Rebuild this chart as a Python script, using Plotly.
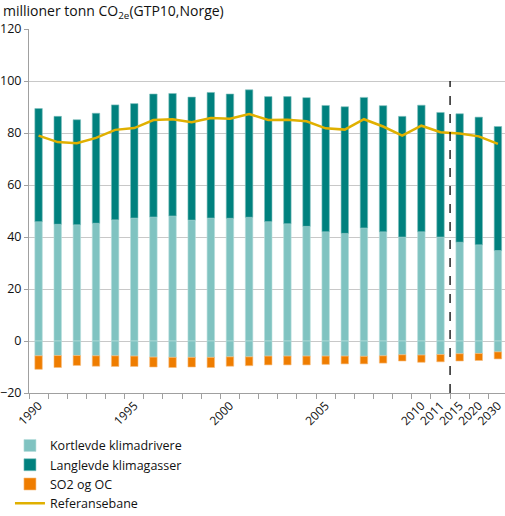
import plotly.graph_objects as go

years = ["1990", "1991", "1992", "1993", "1994", "1995", "1996", "1997", "1998", "1999",
         "2000", "2001", "2002", "2003", "2004", "2005", "2006", "2007", "2008", "2009",
         "2010", "2011", "2015", "2020", "2030"]
tick_labels = ["1990", "", "", "", "", "1995", "", "", "", "",
               "2000", "", "", "", "", "2005", "", "", "", "",
               "2010", "2011", "2015", "2020", "2030"]

kortlevde_pos = [45.9, 44.9, 44.7, 45.3, 46.6, 47.3, 47.7, 48.1, 46.5, 47.3,
                 47.2, 47.6, 45.9, 45.1, 44.1, 42.0, 41.4, 43.5, 42.0, 40.0,
                 42.0, 40.0, 38.0, 37.0, 34.8]
kortlevde_neg = [-5.7, -5.6, -5.6, -5.7, -5.7, -5.8, -6.2, -6.3, -6.3, -6.3,
                 -6.1, -6.1, -5.8, -5.8, -5.8, -5.8, -5.8, -5.9, -5.7, -5.3,
                 -5.4, -5.2, -4.9, -4.8, -4.2]
langlevde = [43.5, 41.5, 40.4, 42.3, 44.2, 44.0, 47.3, 47.1, 47.3, 48.3,
             47.8, 49.0, 48.1, 48.9, 49.5, 48.6, 48.7, 50.2, 48.5, 46.4,
             48.7, 47.9, 49.4, 49.1, 47.7]
so2_oc = [-5.2, -4.6, -3.8, -4.0, -4.1, -4.0, -3.8, -3.9, -3.7, -3.9,
          -3.6, -3.4, -3.4, -3.4, -3.4, -3.2, -3.0, -2.9, -2.8, -2.4,
          -2.8, -2.8, -2.8, -2.7, -2.7]
referansebane = [79.0, 76.5, 76.1, 78.1, 81.2, 81.9, 85.0, 85.3, 84.1, 85.8,
                 85.5, 87.3, 85.0, 85.1, 84.5, 81.8, 81.3, 85.3, 82.5, 79.0,
                 82.8, 80.3, 79.8, 78.7, 75.8]

LIGHT = "#80c3c1"
DARK = "#00817e"
ORANGE = "#ef7d00"
GOLD = "#e0b000"
FONT = "Open Sans"

fig = go.Figure()
fig.add_trace(go.Bar(x=years, y=kortlevde_pos, name="Kortlevde klimadrivere",
                     marker=dict(color=LIGHT, line=dict(color="#b7dddc", width=0.6)),
                     legendgroup="k"))
fig.add_trace(go.Bar(x=years, y=kortlevde_neg, name="Kortlevde klimadrivere",
                     marker=dict(color=LIGHT, line=dict(color="#b7dddc", width=0.6)),
                     legendgroup="k", showlegend=False))
fig.add_trace(go.Bar(x=years, y=langlevde, name="Langlevde klimagasser",
                     marker=dict(color=DARK, line=dict(color="#7fbfbd", width=0.6))))
fig.add_trace(go.Bar(x=years, y=so2_oc, name="SO2 og OC",
                     marker=dict(color=ORANGE, line=dict(color="#f7be80", width=0.6))))
fig.add_trace(go.Scatter(x=years, y=referansebane, name="Referansebane", mode="lines",
                         line=dict(color=GOLD, width=2.5)))

fig.add_shape(type="line", x0=21.5, x1=21.5, y0=-20, y1=100, xref="x", yref="y",
              line=dict(color="black", width=1.3, dash="dash"))

fig.add_annotation(text="millioner tonn CO<sub>2e</sub>(GTP10,Norge)", xref="paper", yref="paper",
                   x=0, y=1, xshift=-28, yshift=5, xanchor="left", yanchor="bottom",
                   showarrow=False, font=dict(family=FONT, size=14, color="#111"))

fig.update_layout(
    width=505, height=516,
    margin=dict(l=29, r=0, t=29, b=123, autoexpand=False),
    barmode="relative", bargap=0.61,
    plot_bgcolor="white", paper_bgcolor="white",
    font=dict(family=FONT, size=13, color="#111"),
    showlegend=True,
    legend=dict(x=-0.04, y=-0.104, xanchor="left", yanchor="top", orientation="v",
                traceorder="normal", font=dict(family=FONT, size=12.5, color="#111"),
                bgcolor="rgba(0,0,0,0)", tracegroupgap=0, itemwidth=30),
    xaxis=dict(type="category", range=[-0.5, 24.37], tickmode="array",
               tickvals=years, ticktext=tick_labels, tickangle=-45, automargin=False,
               tickson="boundaries", ticks="outside", ticklen=5, tickcolor="#a0a0a0",
               showline=True, linecolor="#a0a0a0", linewidth=1, showgrid=False,
               tickfont=dict(family=FONT, size=12, color="#111")),
    yaxis=dict(range=[-20, 120], tickvals=[-20, 0, 20, 40, 60, 80, 100, 120],
               automargin=False,
               ticks="outside", ticklen=4, tickcolor="#a0a0a0",
               showline=True, linecolor="#a0a0a0", linewidth=1,
               showgrid=True, gridcolor="#c8c8c8", gridwidth=1, zeroline=False,
               tickfont=dict(family=FONT, size=12.5, color="#111")),
)

fig.write_html("out.html", post_script="document.body.style.margin='0';",
               config={"displayModeBar": False})
